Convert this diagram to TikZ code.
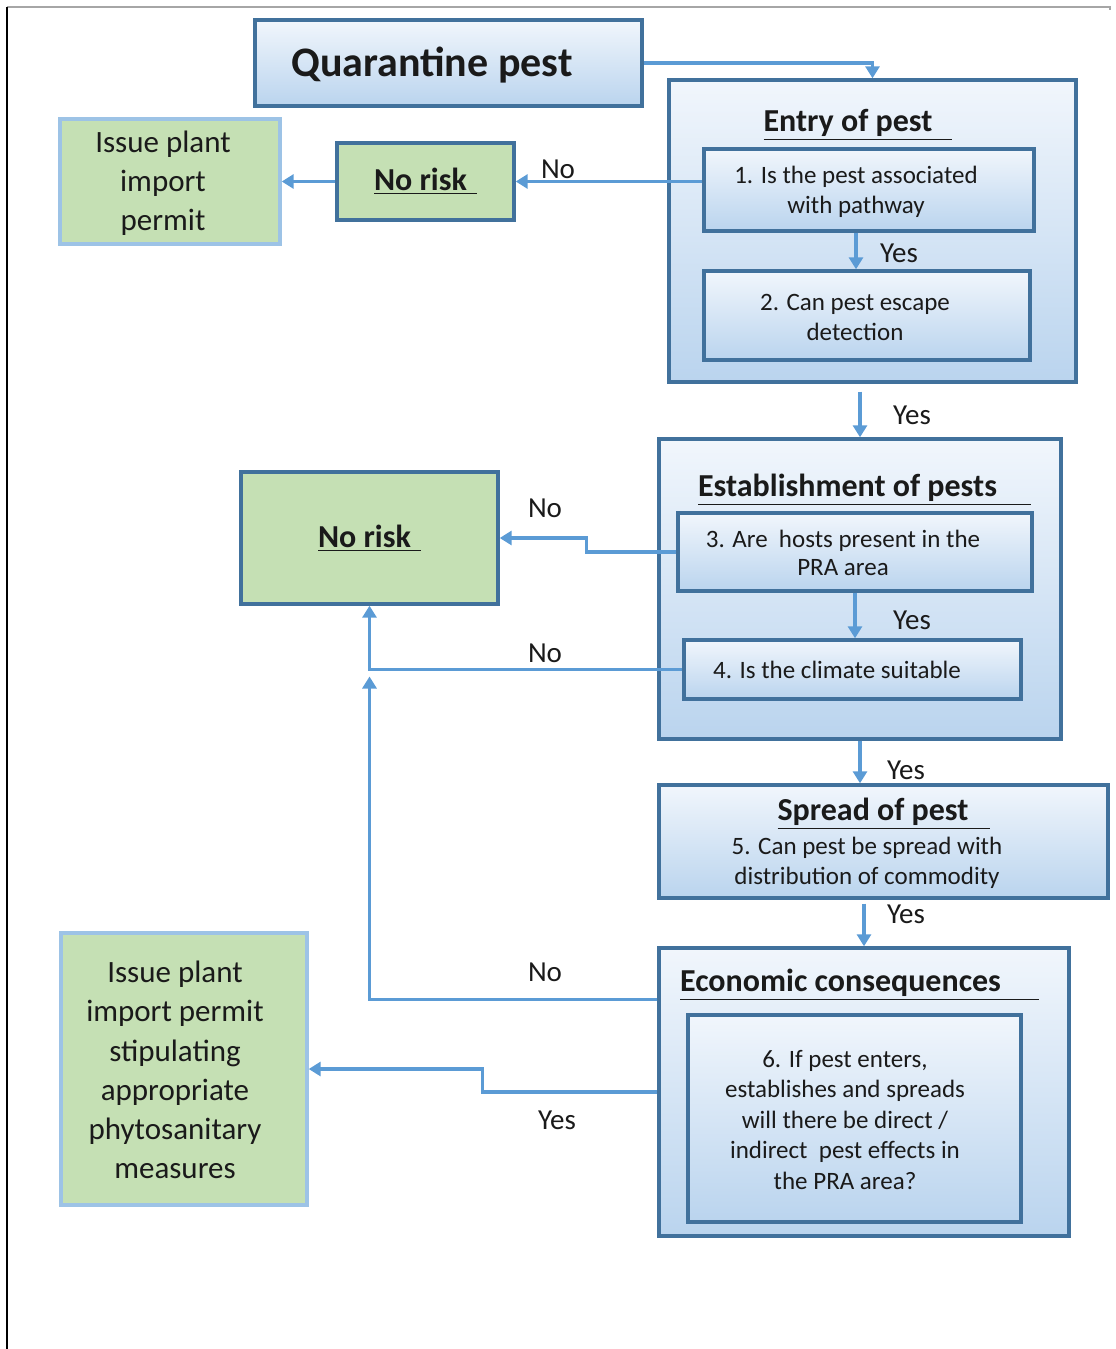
\documentclass[tikz,border=0pt]{standalone}
\usepackage{fontspec}
\setmainfont{Carlito}
\usepackage{tikz}
\usetikzlibrary{arrows.meta, positioning}

\definecolor{boxline}{HTML}{41719C}
\definecolor{arrowblue}{HTML}{5B9BD5}
\definecolor{topblue}{HTML}{F1F6FC}
\definecolor{botblue}{HTML}{BAD4EE}
\definecolor{leaf}{HTML}{C5E0B4}
\definecolor{paleline}{HTML}{9DC3E6}
\definecolor{inkgray}{HTML}{1A1A1A}

\tikzset{
  bluebox/.style={draw=boxline, line width=1.7pt, top color=topblue, bottom color=botblue, inner sep=0pt},
  riskbox/.style={draw=boxline, line width=1.7pt, fill=leaf, inner sep=0pt, font=\bfseries\fontsize{16}{19}\selectfont},
  permitbox/.style={draw=paleline, line width=1.7pt, fill=leaf, inner sep=0pt, align=center, font=\fontsize{15.5}{19.6}\selectfont},
  flow/.style={draw=arrowblue, line width=1.7pt, -{Triangle[width=7pt,length=6pt]}},
  heading/.style={inner sep=0pt, font=\bfseries\fontsize{16}{19}\selectfont},
  qtext/.style={inner sep=0pt, align=center, font=\fontsize{12.5}{15}\selectfont},
  lbl/.style={inner sep=0pt, font=\fontsize{14.5}{17}\selectfont}
}

\begin{document}
\begin{tikzpicture}[x=0.5pt,y=-0.5pt,color=inkgray]
\useasboundingbox (0,0) rectangle (1115,1349);

%Frame
\draw[gray!70, line width=1pt] (7,7) -- (1110,7) -- (1110,10);
\draw[black, line width=0.8pt] (7,7) -- (7,1349);

%Top box
\node[bluebox, minimum width=193.5pt, minimum height=43pt] (quar) at (448.5,63) {};
\node[inner sep=0pt, font=\bfseries\fontsize{21}{25}\selectfont] (quart) at (432,65) {Quarantine pest};

%Entry of pest
\node[bluebox, minimum width=203.5pt, minimum height=151pt] (entry) at (872.5,231) {};
\node[heading] (entryh) at (858,125) {\underline{Entry of pest\hspace{10pt}}};
\node[bluebox, minimum width=165pt, minimum height=41pt] (q1) at (869,190) {};
\node[qtext] (q1t) at (856,192) {1. Is the pest associated\\with pathway};
\node[bluebox, minimum width=163pt, minimum height=44.5pt] (q2) at (867,315.5) {};
\node[qtext] (q2t) at (855,317) {2. Can pest escape\\detection};

%No risk / permit (top)
\node[riskbox, minimum width=88.5pt, minimum height=38.5pt] (norisk1) at (425.5,181.5) {\underline{No risk\hspace{5pt}}};
\node[permitbox, minimum width=110pt, minimum height=62.5pt] (permit1) at (170,181.5) {};
\node[inner sep=0pt, align=center, font=\fontsize{15.5}{19.6}\selectfont] (permit1t) at (163,183) {Issue plant\\import\\permit};

%Establishment of pests
\node[bluebox, minimum width=201pt, minimum height=150pt] (estab) at (860,589) {};
\node[heading] (estabh) at (864.5,490) {\underline{Establishment of pests\hspace{17pt}}};
\node[bluebox, minimum width=177pt, minimum height=39pt] (q3) at (855,552) {};
\node[qtext, font=\fontsize{12.5}{14}\selectfont] (q3t) at (843,553) {3. Are\ \ hosts present in the\\PRA area};
\node[bluebox, minimum width=168.5pt, minimum height=29.5pt] (q4) at (852.5,669.5) {};
\node[qtext] (q4t) at (837,670) {4. Is the climate suitable};

%No risk (middle)
\node[riskbox, minimum width=128.5pt, minimum height=66pt] (norisk2) at (369.5,538) {\underline{No risk\hspace{5pt}}};

%Spread of pest
\node[bluebox, minimum width=224.5pt, minimum height=56.5pt] (spread) at (883.5,841.5) {};
\node[heading] (spreadh) at (884,814) {\underline{Spread of pest\hspace{11pt}}};
\node[qtext] (q5t) at (867,863) {5. Can pest be spread with\\distribution of commodity};

%Economic consequences
\node[bluebox, minimum width=205pt, minimum height=144pt] (econ) at (864,1092) {};
\node[heading] (econh) at (859.5,985) {\underline{Economic consequences\hspace{19pt}}};
\node[bluebox, minimum width=166.5pt, minimum height=103.5pt] (q6) at (854.5,1118.5) {};
\node[qtext, font=\fontsize{12.5}{15.25}\selectfont] (q6t) at (845,1120) {6. If pest enters,\\establishes and spreads\\will there be direct /\\indirect\ \ pest effects in\\the PRA area?};

%Permit with measures
\node[permitbox, minimum width=123pt, minimum height=136pt] (permit2) at (184,1069) {};
\node[inner sep=0pt, align=center, font=\fontsize{15.5}{19.6}\selectfont] (permit2t) at (175,1070) {Issue plant\\import permit\\stipulating\\appropriate\\phytosanitary\\measures};

%Connectors
\draw[flow] (quar.east) -| (entry.north);
\draw[flow] (q1.west |- norisk1.east) -- (norisk1.east);
\draw[flow] (norisk1.west) -- (permit1.east);
\draw[flow] (q1t |- q1.south) -- (q1t |- q2.north);
\draw[flow, shorten <=4pt] (estab.north |- entry.south) -- (estab.north);
\draw[flow] (q3.west) -- ++(-90,0) |- (norisk2.east);
\draw[flow] (q3.south) -- (q3.south |- q4.north);
\draw[flow] (q4.west) -| (norisk2.south);
\coordinate (join) at (norisk2.south |- q4.west);
\draw[flow, shorten >=3.5pt] ([yshift=-26.5pt]econ.north west) -| (join);
\draw[flow] (econ.west) -- ++(-175,0) |- (permit2.east);
\draw[flow] (estab.south) -- (estab.south |- spread.north);
\draw[flow, shorten <=2pt] (econ.north |- spread.south) -- (econ.north);

% Text Node
\node[lbl] (no1) at (558,169) {No};
\node[lbl] (yes1) at (899,253) {Yes};
\node[lbl] (yes2) at (912,415) {Yes};
\node[lbl] (no2) at (545,508) {No};
\node[lbl] (yes3) at (912,620) {Yes};
\node[lbl] (no3) at (545,653) {No};
\node[lbl] (yes4) at (906,770) {Yes};
\node[lbl] (yes5) at (906,914) {Yes};
\node[lbl] (no4) at (545,972) {No};
\node[lbl] (yes6) at (557,1120) {Yes};
\end{tikzpicture}
\end{document}
